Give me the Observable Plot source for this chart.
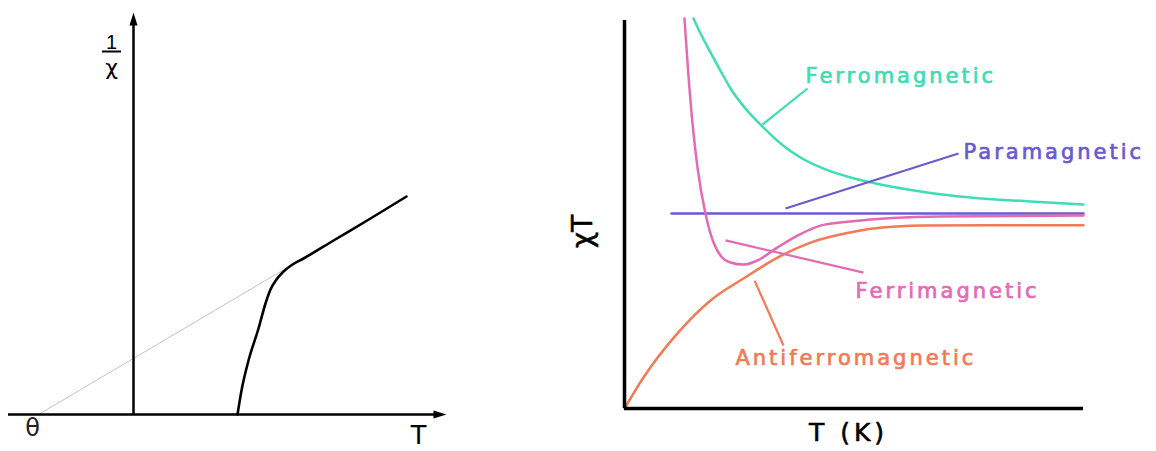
<!DOCTYPE html>
<html>
<head>
<meta charset="utf-8">
<script src="https://cdn.jsdelivr.net/npm/d3@7"></script>
<script src="https://cdn.jsdelivr.net/npm/@observablehq/plot@0.6"></script>
<style>
  html, body { margin: 0; padding: 0; background: #fff; }
  #wrap { display: flex; flex-direction: row; width: 1156px; height: 451px; overflow: hidden; }
  svg { display: block; }
</style>
</head>
<body>
<div id="wrap"></div>
<script>
// ---------- Left panel data: 1/chi versus T (arbitrary units) ----------
const curieT      = [2.08, 2.16, 2.30, 2.50, 2.64, 2.74, 2.86, 3.00, 3.18, 3.40, 4.00, 4.74, 5.46];
const curieInvChi = [0.00, 0.48, 1.08, 1.72, 2.22, 2.50, 2.70, 2.86, 3.00, 3.12, 3.48, 3.92, 4.36];
const weissT      = [-1.9, 3.08];
const weissInvChi = [0.00, 2.94];
const thetaT = -1.9;
const leftAxisX = [-2.5, 6.26];   // T axis extent (to arrow tip)
const leftAxisY = [0, 8.04];      // 1/chi axis extent (to arrow tip)

// ---------- Right panel data: chiT versus T (K) ----------
const ferroT    = [45.1, 49.7, 56.2, 62.7, 69.3, 79.1, 90.2, 102.0, 115.0, 131.4, 147.7, 167.3, 193.5, 226.1, 265.4, 300];
const ferroChiT = [2.00, 1.923, 1.826, 1.733, 1.641, 1.538, 1.446, 1.359, 1.287, 1.226, 1.185, 1.149, 1.113, 1.082, 1.062, 1.046];
const ferriT    = [39.2, 43.1, 47.7, 52.9, 56.2, 62.7, 69.3, 77.8, 86.9, 100, 113.1, 128.1, 147.7, 206.5, 300];
const ferriChiT = [2.00, 1.579, 1.236, 1.00, 0.897, 0.785, 0.749, 0.738, 0.759, 0.826, 0.887, 0.938, 0.959, 0.985, 0.990];
const antiT     = [0, 12.4, 34.6, 56.2, 77.8, 100, 121.6, 147.7, 162.7, 195.4, 240, 300];
const antiChiT  = [0, 0.159, 0.385, 0.554, 0.667, 0.774, 0.851, 0.903, 0.923, 0.938, 0.940, 0.940];
const paraT     = [30.7, 300];
const paraChiT  = [1.0, 1.0];

const labelNames = ["Ferromagnetic", "Paramagnetic", "Ferrimagnetic", "Antiferromagnetic"];
const labelT     = [118.3, 221.6, 151.0, 72.5];
const labelChiT  = [1.667, 1.277, 0.569, 0.221];
const leaderT1   = [90.2, 105.2, 66.0, 85.0];
const leaderC1   = [1.456, 1.026, 0.862, 0.656];
const leaderT2   = [119.6, 218.3, 156.2, 103.9];
const leaderC2   = [1.641, 1.308, 0.697, 0.323];
const colors     = ["#3fdcb6", "#6a5acf", "#e46ab4", "#f37a55"];

// ---------- Build tables ----------
const zip = (xs, ys) => xs.map((x, i) => ({x, y: ys[i]}));
const curie = zip(curieT, curieInvChi);
const weiss = zip(weissT, weissInvChi);
const ferro = zip(ferroT, ferroChiT);
const ferri = zip(ferriT, ferriChiT);
const anti  = zip(antiT, antiChiT);
const para  = zip(paraT, paraChiT);
const labels = labelNames.map((name, i) => ({
  name, x: labelT[i], y: labelChiT[i], x1: leaderT1[i], y1: leaderC1[i], x2: leaderT2[i], y2: leaderC2[i], color: colors[i]
}));

// filled arrowhead shape for vectors
const arrowHead = {
  draw(context, l, r) {
    context.moveTo(0, -l);
    context.lineTo(-4, 0);
    context.lineTo(4, 0);
    context.closePath();
  }
};

const left = Plot.plot({
  width: 470, height: 451, margin: 0,
  style: {background: "#fff", overflow: "visible"},
  x: {domain: [0, 6], range: [133, 433], axis: null},
  y: {domain: [0, 8], range: [414, 14], axis: null},
  marks: [
    Plot.line(weiss, {x: "x", y: "y", stroke: "#c4c4c4", strokeWidth: 1}),
    Plot.ruleY([0], {x1: leftAxisX[0], x2: leftAxisX[1] - 0.2, stroke: "#000", strokeWidth: 2.5}),
    Plot.ruleX([0], {y1: leftAxisY[0], y2: leftAxisY[1] - 0.2, stroke: "#000", strokeWidth: 2.5}),
    Plot.vector([{x: leftAxisX[1], y: 0}], {x: "x", y: "y", length: 13, rotate: 90, anchor: "end", shape: arrowHead, fill: "#000", stroke: "none"}),
    Plot.vector([{x: 0, y: leftAxisY[1]}], {x: "x", y: "y", length: 13, rotate: 0, anchor: "end", shape: arrowHead, fill: "#000", stroke: "none"}),
    Plot.line(curie, {x: "x", y: "y", curve: "monotone-x", stroke: "#000", strokeWidth: 2.6}),
    Plot.text(["θ"], {x: thetaT, y: 0, dx: -6, dy: 14, fontSize: 24, fontFamily: "DejaVu Sans", fill: "#222"}),
    Plot.text(["T"], {x: 5.7, y: 0, dy: 29, lineAnchor: "bottom", fontSize: 28, fontFamily: "Liberation Sans", fill: "#000"}),
    Plot.text(["1"], {x: -0.44, y: 7.32, lineAnchor: "bottom", fontSize: 20, fontFamily: "Liberation Sans", fill: "#000"}),
    Plot.ruleY([7.26], {x1: -0.62, x2: -0.24, stroke: "#000", strokeWidth: 2}),
    Plot.text(["χ"], {x: -0.44, y: 6.80, lineAnchor: "bottom", fontSize: 22, fontFamily: "DejaVu Sans", fill: "#000"})
  ]
});

const right = Plot.plot({
  width: 686, height: 451, margin: 0,
  style: {background: "#fff", overflow: "visible"},
  x: {domain: [0, 300], range: [154, 613], axis: null},
  y: {domain: [0, 2], range: [408, 18], axis: null},
  marks: [
    Plot.line(anti,  {x: "x", y: "y", curve: "monotone-x", stroke: colors[3], strokeWidth: 2.5}),
    Plot.line(ferro, {x: "x", y: "y", curve: "monotone-x", stroke: colors[0], strokeWidth: 2.5}),
    Plot.line(para,  {x: "x", y: "y", stroke: colors[1], strokeWidth: 2.5}),
    Plot.line(ferri, {x: "x", y: "y", curve: "monotone-x", stroke: colors[2], strokeWidth: 2.5}),
    Plot.link(labels, {x1: "x1", y1: "y1", x2: "x2", y2: "y2", stroke: "color", strokeWidth: 2.2}),
    Plot.text(labels, {x: "x", y: "y", text: "name", fill: "color", stroke: "color", strokeWidth: 0.7,
      textAnchor: "start", lineAnchor: "bottom", fontSize: 21, fontFamily: "DejaVu Sans"}),
    Plot.ruleX([0], {y1: 0, y2: 1.99, stroke: "#000", strokeWidth: 3.5}),
    Plot.ruleY([0], {x1: 0, x2: 300, stroke: "#000", strokeWidth: 3.5}),
    Plot.text(["T (K)"], {x: 146.4, y: 0, dy: 32, lineAnchor: "bottom", fontSize: 25, fontFamily: "DejaVu Sans",
      fill: "#000", stroke: "#000", strokeWidth: 0.6}),
    Plot.text(["χT"], {x: 0, y: 0.908, dx: -41, rotate: -90, fontSize: 28, fontFamily: "DejaVu Sans",
      fill: "#000", stroke: "#000", strokeWidth: 0.5})
  ]
});

// letter-spacing on label texts
right.querySelectorAll("text").forEach(t => {
  if (labelNames.includes(t.textContent)) t.setAttribute("letter-spacing", "3px");
  if (t.textContent === "T (K)") t.setAttribute("letter-spacing", "4px");
});

document.getElementById("wrap").append(left, right);
</script>
</body>
</html>
